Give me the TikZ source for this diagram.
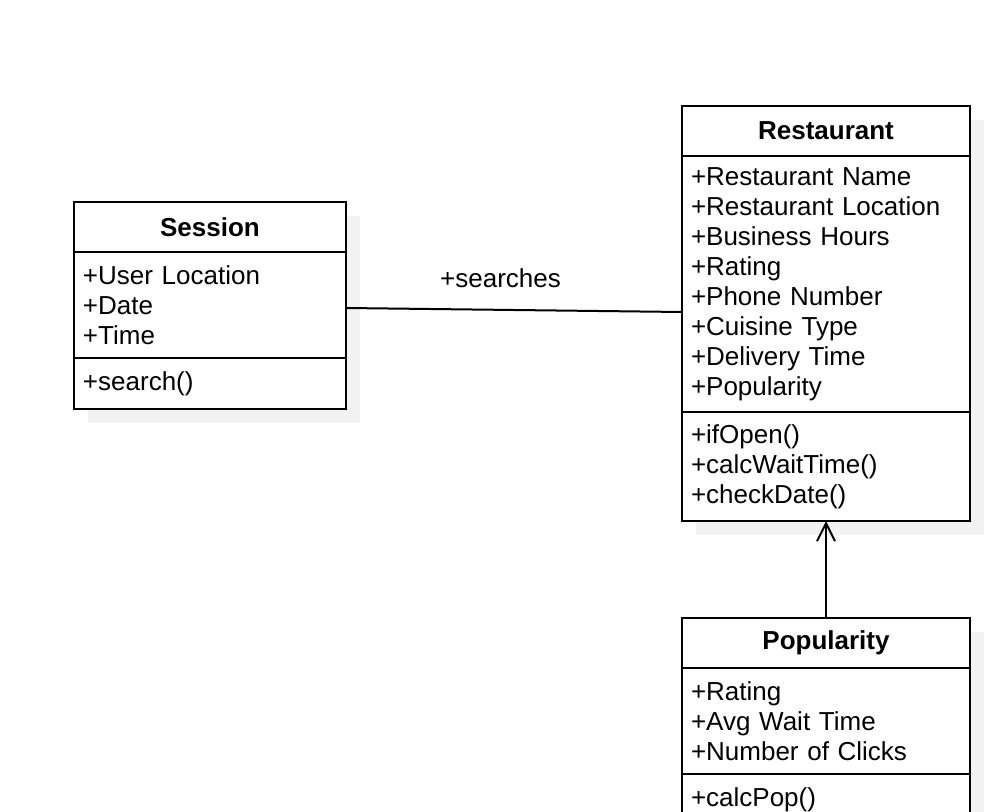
\documentclass[tikz,border=0pt]{standalone}
\usepackage{fontspec}
\setmainfont{Liberation Sans}
\usetikzlibrary{positioning,shadows,arrows.meta}
\definecolor{shadowgray}{RGB}{242,242,242}

\begin{document}
\begin{tikzpicture}
    [
        x = 0.5pt,
        y = -0.5pt,
        every node/.style={
            font=\fontsize{13pt}{15pt}\selectfont
        },
        compartment/.style={
            draw,
            fill=white,
            line width=1pt,
            inner xsep=4.5pt,
            inner ysep=0pt,
            outer sep=0pt,
            align=left,
            drop shadow={shadow xshift=7pt, shadow yshift=-7pt, fill=shadowgray, opacity=1}
        },
        classtitle/.style={
            compartment,
            align=center,
            minimum height=25pt,
            font=\fontsize{13pt}{15pt}\selectfont\bfseries
        },
        link/.style={
            line width=1pt
        },
    ]

    \useasboundingbox (0,0) rectangle (996,812);

    % Session
    \node [classtitle, text width=127pt, anchor=north west] (sessiontitle) at (74,202) {Session};
    \node [compartment, text width=127pt, minimum height=53pt, below=0pt of sessiontitle] (sessionattr)
        {+User Location\\+Date\\+Time};
    \node [compartment, text width=127pt, minimum height=25.5pt, below=0pt of sessionattr] (sessionops)
        {+search()};

    % Restaurant
    \node [classtitle, text width=135pt, anchor=north west] (resttitle) at (682,106) {Restaurant};
    \node [compartment, text width=135pt, minimum height=128pt, below=0pt of resttitle] (restattr)
        {+Restaurant Name\\+Restaurant Location\\+Business Hours\\+Rating\\+Phone Number\\+Cuisine Type\\+Delivery Time\\+Popularity};
    \node [compartment, text width=135pt, minimum height=54.5pt, below=0pt of restattr] (restops)
        {+ifOpen()\\+calcWaitTime()\\+checkDate()};

    % Popularity
    \node [classtitle, text width=135pt, anchor=north west] (poptitle) at (682,618) {Popularity};
    \node [compartment, text width=135pt, minimum height=53pt, below=0pt of poptitle] (popattr)
        {+Rating\\+Avg Wait Time\\+Number of Clicks};
    \node [compartment, text width=135pt, minimum height=25.5pt, below=0pt of popattr] (popops)
        {+calcPop()};

    \draw [link] ([yshift=-1.5pt]sessionattr.east)
        -- node [above=10.5pt, pos=0.46, inner sep=0pt] (searcheslabel) {+searches}
        ([yshift=-14pt]restattr.west);
    \draw [link, -{Straight Barb[length=9pt, width=9pt]}] (poptitle.north) -- (restops.south);
\end{tikzpicture}
\end{document}
